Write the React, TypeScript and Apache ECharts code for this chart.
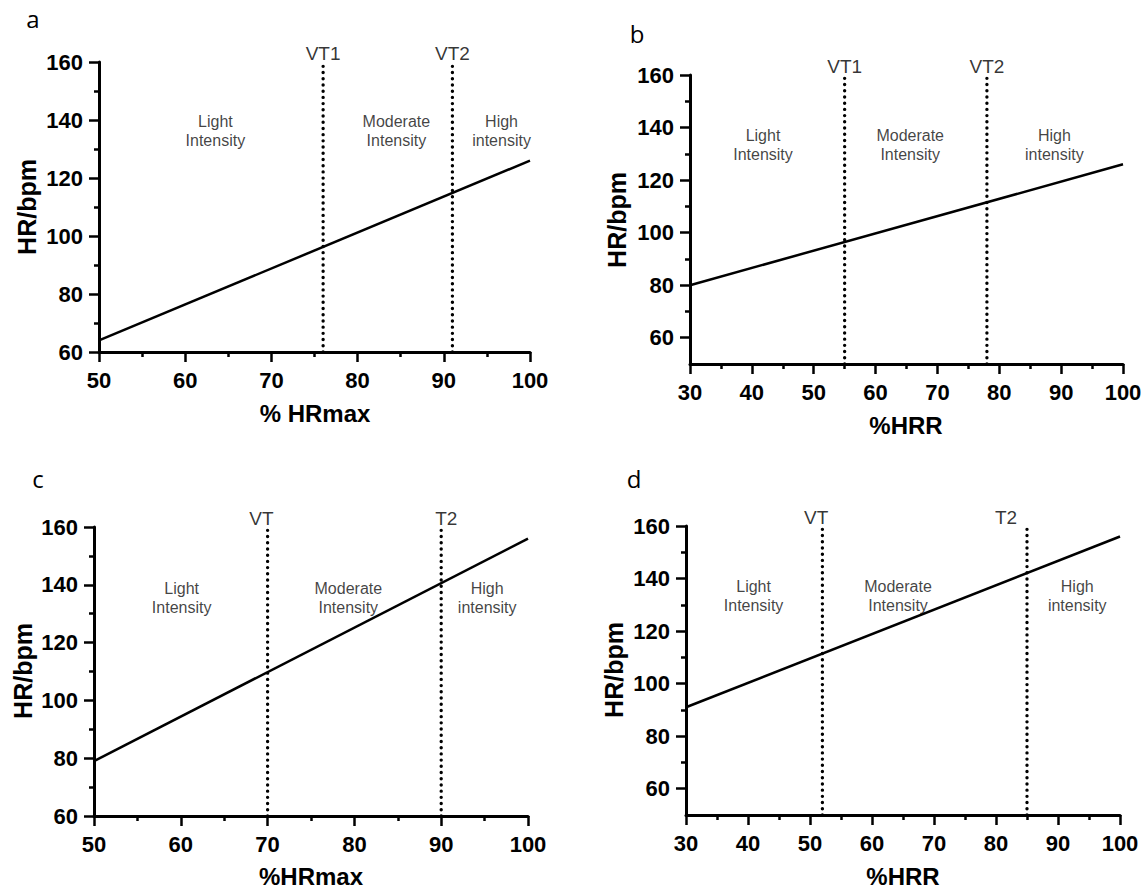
import React, { useEffect, useRef } from "react";
import * as echarts from "echarts";

// ---------- data ----------
const panelLetters = ["a", "b", "c", "d"];
const xAxisTitles = ["% HRmax", "%HRR", "%HRmax", "%HRR"];
const yAxisTitle = "HR/bpm";
const xMins = [50, 30, 50, 30];
const xMax = 100;
const yMins = [60, 50, 60, 50];
const yMax = 160;
const yMajorTicks = [60, 80, 100, 120, 140, 160];
const yMinorTicks = [70, 90, 110, 130, 150];
const hrLineX = [
  [50, 100],
  [30, 100],
  [50, 100],
  [30, 100],
];
const hrLineY = [
  [64, 126],
  [80, 126],
  [79, 156],
  [91, 156],
];
const thresholdX = [
  [76, 91],
  [55, 78],
  [70, 90],
  [52, 85],
];
const thresholdNames = [
  ["VT1", "VT2"],
  ["VT1", "VT2"],
  ["VT", "T2"],
  ["VT", "T2"],
];
const zoneNames = ["Light\nIntensity", "Moderate\nIntensity", "High\nintensity"];
const zoneX = [
  [63.5, 84.5, 96.7],
  [41.8, 65.6, 88.9],
  [60.1, 79.3, 95.3],
  [40.9, 64.2, 93.1],
];
const zoneY = [136.3, 133.5, 135.5, 133.3];

// ---------- layout ----------
const FONT = '"Liberation Sans", Arial, Helvetica, sans-serif';
const gridBoxes = [
  { left: 99, top: 62, width: 431, height: 290 },
  { left: 690, top: 75, width: 433, height: 289 },
  { left: 94, top: 527, width: 434, height: 289 },
  { left: 686, top: 526, width: 434, height: 289 },
];
const letterPos = [
  [33, 18],
  [637, 33],
  [38, 478],
  [634, 478],
];
const yTitlePos = [
  [27, 207],
  [617, 220],
  [23, 671],
  [614, 670],
];
const xTitlePos = [
  [315, 413],
  [906, 425],
  [311, 876],
  [903, 876],
];
const thresholdLabelLayout = [
  [{ align: "center", dx: 0 }, { align: "center", dx: 0 }],
  [{ align: "center", dx: 0 }, { align: "center", dx: 0 }],
  [{ align: "right", dx: 6 }, { align: "left", dx: -6 }],
  [{ align: "right", dx: 6 }, { align: "center", dx: -21 }],
];

function buildOption() {
  const grid = gridBoxes.map((g) => ({ ...g, containLabel: false }));
  const tickStyle = { color: "#000", width: 2.5 };
  const xAxis = panelLetters.map((_, i) => ({
    type: "value",
    gridIndex: i,
    min: xMins[i],
    max: xMax,
    interval: 10,
    axisLine: { show: true, onZero: false, lineStyle: { color: "#000", width: 3 } },
    axisTick: { show: true, length: 10, lineStyle: tickStyle },
    minorTick: { show: true, splitNumber: 2, length: 5, lineStyle: tickStyle },
    splitLine: { show: false },
    minorSplitLine: { show: false },
    axisLabel: {
      color: "#000",
      fontFamily: FONT,
      fontWeight: "bold",
      fontSize: 22,
      margin: 17,
      showMaxLabel: true,
      showMinLabel: true,
    },
  }));
  const yAxis: any[] = [];
  panelLetters.forEach((_, i) => {
    yAxis.push({
      type: "value",
      gridIndex: i,
      position: "left",
      min: yMins[i],
      max: yMax,
      axisLine: { show: true, onZero: false, lineStyle: { color: "#000", width: 3 } },
      axisTick: { show: true, length: 10, customValues: yMajorTicks, lineStyle: tickStyle },
      splitLine: { show: false },
      axisLabel: {
        customValues: yMajorTicks,
        color: "#000",
        fontFamily: FONT,
        fontWeight: "bold",
        fontSize: 22,
        margin: 16,
      },
    });
    yAxis.push({
      type: "value",
      gridIndex: i,
      position: "left",
      min: yMins[i],
      max: yMax,
      axisLine: { show: false },
      axisTick: { show: true, length: 5, customValues: yMinorTicks, lineStyle: tickStyle },
      splitLine: { show: false },
      axisLabel: { show: false },
    });
  });

  const series: any[] = [];
  panelLetters.forEach((_, i) => {
    series.push({
      type: "line",
      xAxisIndex: i,
      yAxisIndex: 2 * i,
      data: hrLineX[i].map((x, k) => [x, hrLineY[i][k]]),
      symbol: "none",
      silent: true,
      lineStyle: { color: "#000", width: 2.5 },
      z: 3,
    });
    thresholdX[i].forEach((t) => {
      series.push({
        type: "line",
        xAxisIndex: i,
        yAxisIndex: 2 * i,
        data: [
          [t, yMins[i]],
          [t, yMax],
        ],
        symbol: "none",
        silent: true,
        lineStyle: { color: "#000", width: 3.4, type: [0.01, 6.2], cap: "round" },
        z: 4,
      });
    });
    series.push({
      type: "scatter",
      xAxisIndex: i,
      yAxisIndex: 2 * i,
      symbolSize: 0,
      silent: true,
      itemStyle: { color: "transparent" },
      data: zoneNames.map((n, k) => ({ value: [zoneX[i][k], zoneY[i]], name: n })),
      label: {
        show: true,
        position: "inside",
        formatter: "{b}",
        fontFamily: FONT,
        fontSize: 16,
        lineHeight: 19,
        color: "#111",
        textBorderWidth: 0,
        align: "center",
        verticalAlign: "middle",
      },
      z: 5,
    });
    series.push({
      type: "scatter",
      xAxisIndex: i,
      yAxisIndex: 2 * i,
      symbolSize: 0,
      silent: true,
      itemStyle: { color: "transparent" },
      data: thresholdNames[i].map((n, j) => ({
        value: [thresholdX[i][j], yMax],
        name: n,
        label: {
          align: thresholdLabelLayout[i][j].align,
          offset: [thresholdLabelLayout[i][j].dx, -9],
        },
      })),
      label: {
        show: true,
        position: "inside",
        formatter: "{b}",
        fontFamily: FONT,
        fontSize: 19,
        color: "#000",
        textBorderWidth: 0,
        verticalAlign: "middle",
      },
      z: 5,
    });
  });

  const graphic: any[] = [];
  panelLetters.forEach((l, i) => {
    graphic.push({
      type: "text",
      x: letterPos[i][0],
      y: letterPos[i][1],
      style: {
        text: l,
        font: '24px "Open Sans", "Noto Sans", sans-serif',
        fill: "#000",
        textAlign: "center",
        textVerticalAlign: "middle",
      },
    });
    graphic.push({
      type: "text",
      x: yTitlePos[i][0],
      y: yTitlePos[i][1],
      rotation: Math.PI / 2,
      style: {
        text: yAxisTitle,
        font: `bold 25px ${FONT}`,
        fill: "#000",
        textAlign: "center",
        textVerticalAlign: "middle",
      },
    });
    graphic.push({
      type: "text",
      x: xTitlePos[i][0],
      y: xTitlePos[i][1],
      style: {
        text: xAxisTitles[i],
        font: `bold 24px ${FONT}`,
        fill: "#000",
        textAlign: "center",
        textVerticalAlign: "middle",
      },
    });
  });

  return {
    animation: false,
    backgroundColor: "#ffffff",
    grid,
    xAxis,
    yAxis,
    series,
    graphic,
  };
}

export default function App() {
  const ref = useRef<HTMLDivElement>(null);
  useEffect(() => {
    if (!ref.current) return;
    const chart = echarts.init(ref.current, undefined, { renderer: "svg" });
    chart.setOption(buildOption() as any);
    return () => chart.dispose();
  }, []);
  return (
    <div
      ref={ref}
      style={{ position: "fixed", left: 0, top: 0, width: 1146, height: 891, background: "#fff" }}
    />
  );
}
